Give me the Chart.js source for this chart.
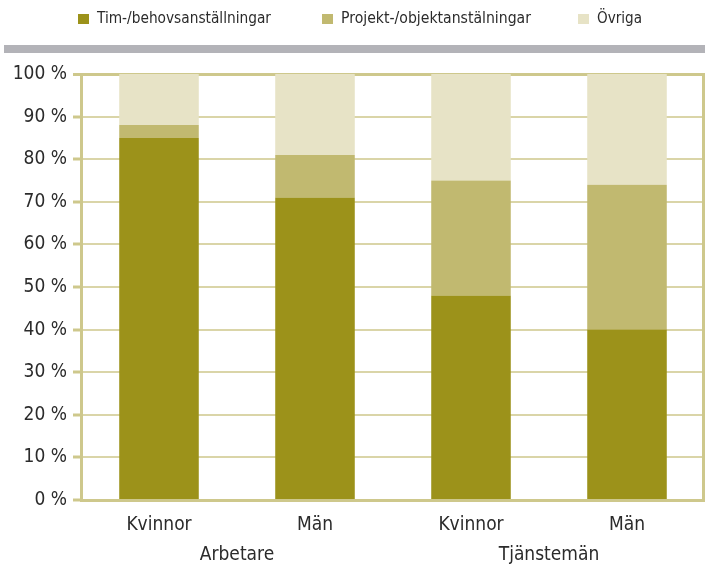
<!DOCTYPE html>
<html>
<head>
<meta charset="utf-8">
<script src="https://cdn.jsdelivr.net/npm/chart.js@4"></script>
<style>
  html, body { margin: 0; padding: 0; background: #fff; }
  #wrap { width: 705px; height: 565px; }
</style>
</head>
<body>
<div id="wrap"><canvas id="myChart" width="705" height="565"></canvas></div>
<script>
// Data
const categories = ['Kvinnor', 'Män', 'Kvinnor', 'Män'];
const groups = ['Arbetare', 'Tjänstemän'];
const timBehov = [85, 71, 48, 40];
const projekt = [3, 10, 27, 34];
const ovriga = [12, 19, 25, 26];
const yTickLabels = ['0 %', '10 %', '20 %', '30 %', '40 %', '50 %', '60 %', '70 %', '80 %', '90 %', '100 %'];

const FONT = "'Liberation Sans Narrow', 'DejaVu Sans Condensed', 'Roboto', sans-serif";
const axisColor = '#CEC88C';
const gridColor = '#DAD5A8';

// Legend + gray band + right frame drawn by hand
const decoPlugin = {
    id: 'deco',
    afterDraw: function(chart) {
        const ctx = chart.ctx;
        const area = chart.chartArea;
        ctx.save();
        // gray band under legend
        ctx.fillStyle = '#B3B3B8';
        ctx.fillRect(4, 45, 701, 8);
        // right frame line
        ctx.strokeStyle = axisColor;
        ctx.lineWidth = 3;
        ctx.beginPath();
        ctx.moveTo(area.right - 1.5, area.top);
        ctx.lineTo(area.right - 1.5, area.bottom);
        ctx.stroke();
        // legend
        const ds = chart.data.datasets;
        const items = [
            { x: 78, w: 174 },
            { x: 322, w: 190 },
            { x: 578, w: 45 }
        ];
        ctx.font = '16px ' + FONT;
        ctx.textBaseline = 'middle';
        ctx.textAlign = 'left';
        items.forEach(function(it, i) {
            ctx.fillStyle = ds[i].backgroundColor;
            ctx.fillRect(it.x, 14, 11, 10);
            ctx.fillStyle = '#2b2b2b';
            ctx.fillText(ds[i].label, it.x + 19, 19, it.w);
        });
        ctx.restore();
    }
};

const data = {
    labels: categories,
    datasets: [
        { label: 'Tim-/behovsanställningar', data: timBehov, backgroundColor: '#9C921A' },
        { label: 'Projekt-/objektanstälningar', data: projekt, backgroundColor: '#C1B970' },
        { label: 'Övriga', data: ovriga, backgroundColor: '#E7E3C6' }
    ]
};

const config = {
    type: 'bar',
    data: data,
    options: {
        responsive: false,
        animation: false,
        layout: { padding: { top: 74, right: 0, left: 0, bottom: 0 } },
        datasets: { bar: { categoryPercentage: 1, barPercentage: 0.51 } },
        plugins: {
            legend: { display: false },
            tooltip: { enabled: false }
        },
        scales: {
            x: {
                stacked: true,
                grid: { display: false },
                border: { display: true, color: axisColor, width: 3 },
                ticks: { color: '#2b2b2b', font: { family: FONT, size: 19 }, padding: 6 },
                afterFit: function(scale) { scale.height = 36; }
            },
            x2: {
                type: 'category',
                labels: groups,
                position: 'bottom',
                offset: true,
                grid: { display: false },
                border: { display: false },
                ticks: { color: '#2b2b2b', font: { family: FONT, size: 19 }, padding: 0 },
                afterFit: function(scale) { scale.height = 29; }
            },
            y: {
                stacked: true,
                min: 0,
                max: 100,
                ticks: {
                    stepSize: 10,
                    color: '#2b2b2b',
                    font: { family: FONT, size: 19 },
                    padding: 6,
                    callback: function(value) { return yTickLabels[value / 10]; }
                },
                grid: {
                    color: function(c) { return c.index === 10 ? axisColor : gridColor; },
                    lineWidth: function(c) { return c.index === 10 ? 3 : 2; },
                    tickColor: axisColor,
                    tickWidth: 3,
                    tickLength: 8
                },
                border: { color: axisColor, width: 3 },
                afterFit: function(scale) { scale.width = 81; }
            }
        }
    },
    plugins: [decoPlugin]
};

const myChart = new Chart(document.getElementById('myChart'), config);
</script>
</body>
</html>
